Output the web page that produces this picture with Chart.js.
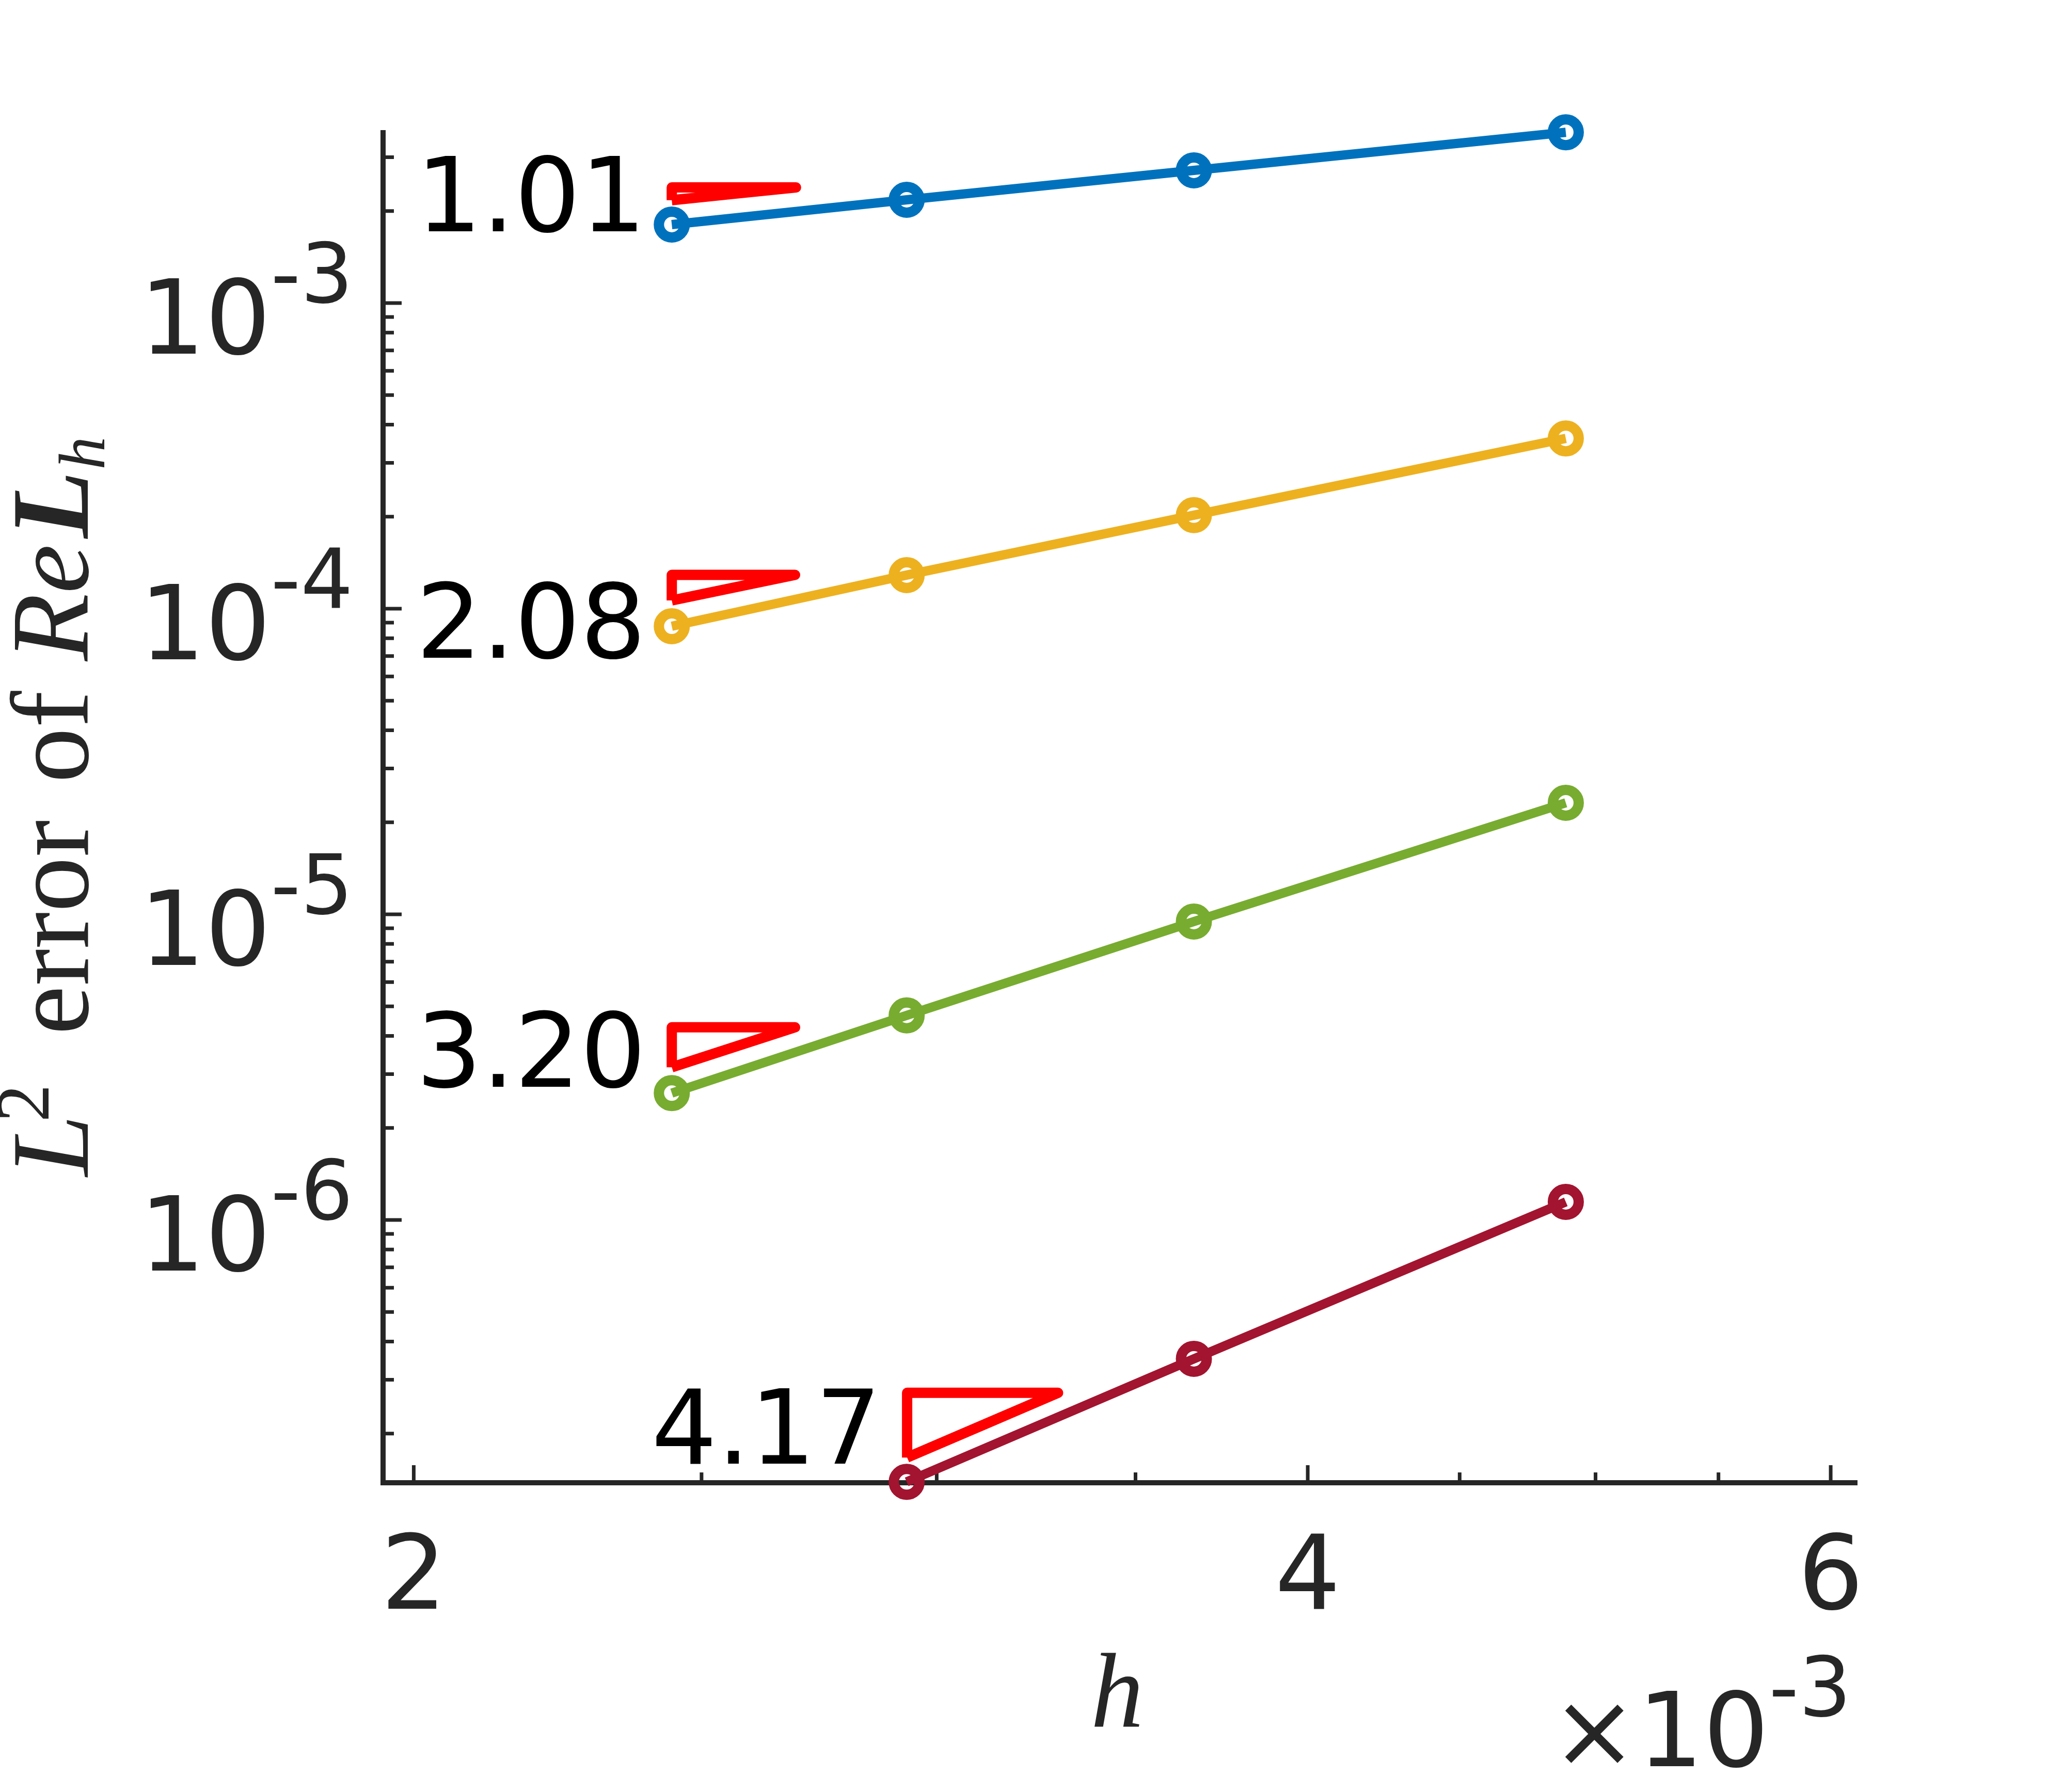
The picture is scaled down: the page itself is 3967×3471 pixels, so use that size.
<!DOCTYPE html>
<html>
<head>
<meta charset="utf-8">
<script src="https://cdn.jsdelivr.net/npm/chart.js@4.4.1/dist/chart.umd.min.js"></script>
<style>
html, body { margin: 0; padding: 0; background: #fff; }
#wrap { width: 3967px; height: 3471px; }
</style>
</head>
<body>
<div id="wrap"><canvas id="errChart" width="3967" height="3471"></canvas></div>
<script>
// mesh sizes h and L2 errors, one array per curve
const hValues = [2.443e-3, 2.931e-3, 3.662e-3, 4.886e-3];
const errBlue = [1.806e-3, 2.177e-3, 2.717e-3, 3.62e-3];
const errYellow = [8.76e-5, 1.288e-4, 2.023e-4, 3.607e-4];
const errGreen = [2.60e-6, 4.67e-6, 9.47e-6, 2.317e-5];
const errRed = [null, 1.39e-7, 3.513e-7, 1.146e-6];

// slope triangles and their labels
const slopeLabels = ['1.01', '2.08', '3.20', '4.17'];
const triLeft = [2.443e-3, 2.443e-3, 2.443e-3, 2.932e-3];
const triRight = [2.69e-3, 2.688e-3, 2.688e-3, 3.296e-3];
const triBottom = [2.17e-3, 1.064e-4, 3.16e-6, 1.67e-7];
const triTop = [2.39e-3, 1.29e-4, 4.27e-6, 2.72e-7];
const slopeLabelY = [1.718e-3, 6.91e-5, 2.73e-6, 1.596e-7];

// axis ticks
const xMajor = [2e-3, 4e-3, 6e-3];
const xTickLabels = ['2', '4', '6'];
const xMinor = [2.5e-3, 3e-3, 3.5e-3, 4.5e-3, 5e-3, 5.5e-3];
const yMajor = [1e-6, 1e-5, 1e-4, 1e-3];
const yTickExp = ['-6', '-5', '-4', '-3'];

const seriesColors = ['#0072BD', '#EDB120', '#77AC30', '#A2142F'];
const axisColor = '#262626';
const sans = '"DejaVu Sans"';
const serif = '"Liberation Serif"';

const seriesData = [errBlue, errYellow, errGreen, errRed];
const toPoints = ys => hValues.map((h, i) => ({x: h, y: ys[i]})).filter(p => p.y !== null);

const datasets = seriesData.map((ys, i) => ({
    data: toPoints(ys),
    borderColor: seriesColors[i],
    borderWidth: 18,
    pointRadius: 25,
    pointBorderWidth: 20,
    pointBorderColor: seriesColors[i],
    pointBackgroundColor: 'rgba(0,0,0,0)',
    fill: false,
    tension: 0,
    clip: false,
    order: 2
}));

slopeLabels.forEach((lbl, i) => {
    datasets.push({
        data: [
            {x: triLeft[i], y: triBottom[i]},
            {x: triLeft[i], y: triTop[i]},
            {x: triRight[i], y: triTop[i]},
            {x: triLeft[i], y: triBottom[i]}
        ],
        borderColor: '#FF0000',
        borderWidth: 20,
        borderJoinStyle: 'round',
        borderCapStyle: 'butt',
        pointRadius: 0,
        fill: false,
        tension: 0.000001,
        clip: false,
        order: 1
    });
});

// y minor ticks 2..9 in each decade inside the axis range
const yMinor = [];
[1e-7, 1e-6, 1e-5, 1e-4, 1e-3].forEach(d => {
    for (let k = 2; k <= 9; k++) yMinor.push(k * d);
});

function drawPowerLabel(ctx, right, base, mainTxt, supTxt, mainSize, supSize, rise) {
    ctx.font = mainSize + 'px ' + sans;
    const wMain = ctx.measureText(mainTxt).width;
    ctx.font = supSize + 'px ' + sans;
    const wSup = ctx.measureText(supTxt).width;
    const start = right - wMain - wSup;
    ctx.textAlign = 'left';
    ctx.textBaseline = 'alphabetic';
    ctx.font = mainSize + 'px ' + sans;
    ctx.fillText(mainTxt, start, base);
    ctx.font = supSize + 'px ' + sans;
    ctx.fillText(supTxt, start + wMain, base - rise);
}

const matlabAxes = {
    id: 'matlabAxes',
    beforeDatasetsDraw(chart) {
        const {ctx, chartArea: a, scales: {x, y}} = chart;
        ctx.save();
        ctx.strokeStyle = axisColor;
        ctx.lineWidth = 10;
        ctx.lineJoin = 'miter';
        ctx.beginPath();
        ctx.moveTo(a.left, a.top);
        ctx.lineTo(a.left, a.bottom);
        ctx.lineTo(a.right, a.bottom);
        ctx.stroke();

        ctx.lineWidth = 7;
        ctx.beginPath();
        xMajor.forEach(v => {
            const px = x.getPixelForValue(v);
            ctx.moveTo(px, a.bottom); ctx.lineTo(px, a.bottom - 34);
        });
        xMinor.forEach(v => {
            const px = x.getPixelForValue(v);
            ctx.moveTo(px, a.bottom); ctx.lineTo(px, a.bottom - 20);
        });
        yMajor.forEach(v => {
            const py = y.getPixelForValue(v);
            ctx.moveTo(a.left, py); ctx.lineTo(a.left + 36, py);
        });
        yMinor.forEach(v => {
            const py = y.getPixelForValue(v);
            if (py < a.top || py > a.bottom) return;
            ctx.moveTo(a.left, py); ctx.lineTo(a.left + 21, py);
        });
        ctx.stroke();
        ctx.restore();
    },
    afterDraw(chart) {
        const {ctx, chartArea: a, scales: {x, y}} = chart;
        ctx.save();
        ctx.fillStyle = axisColor;

        // y tick labels 10^k
        yMajor.forEach((v, i) => {
            const py = y.getPixelForValue(v);
            drawPowerLabel(ctx, a.left - 58, py + 98, '10', yTickExp[i], 200, 160, 99);
        });

        // x tick labels
        ctx.font = '200px ' + sans;
        ctx.textAlign = 'center';
        ctx.textBaseline = 'alphabetic';
        xMajor.forEach((v, i) => {
            ctx.fillText(xTickLabels[i], x.getPixelForValue(v), a.bottom + 244);
        });

        // x exponent
        drawPowerLabel(ctx, a.right - 12, a.bottom + 549, '\u00d710', '-3', 200, 160, 97);

        // x axis title
        ctx.font = 'italic 205px ' + serif;
        ctx.textAlign = 'center';
        ctx.fillText('h', (a.left + a.right) / 2 - 6, a.bottom + 472);

        // slope labels
        ctx.fillStyle = '#000';
        ctx.font = '200px ' + sans;
        ctx.textAlign = 'right';
        slopeLabels.forEach((lbl, i) => {
            ctx.fillText(lbl, x.getPixelForValue(triLeft[i]) - 50, y.getPixelForValue(slopeLabelY[i]));
        });

        // y axis title, rotated
        ctx.fillStyle = axisColor;
        const s = 214;
        const parts = [
            {t: 'L', f: 'italic ' + s + 'px ' + serif, dy: 0, gap: -14},
            {t: '2', f: Math.round(s * 0.68) + 'px ' + serif, dy: -76, gap: 96},
            {t: 'error', f: s + 'px ' + serif, dy: 0, gap: 72},
            {t: 'of', f: s + 'px ' + serif, dy: 0, gap: 58},
            {t: 'R', f: 'italic ' + s + 'px ' + serif, dy: 0, gap: 0},
            {t: 'e', f: 'italic ' + s + 'px ' + serif, dy: 0, gap: 12},
            {t: 'L', f: 'italic bold ' + s + 'px ' + serif, dy: 0, gap: 2},
            {t: 'h', f: 'italic ' + Math.round(s * 0.6) + 'px ' + serif, dy: 32, gap: 0}
        ];
        let total = 0;
        parts.forEach(p => {
            ctx.font = p.f;
            p.w = ctx.measureText(p.t).width;
            total += p.w + p.gap;
        });
        ctx.translate(170, (a.top + a.bottom) / 2);
        ctx.rotate(-Math.PI / 2);
        ctx.textAlign = 'left';
        ctx.textBaseline = 'alphabetic';
        let cx = -total / 2;
        parts.forEach(p => {
            ctx.font = p.f;
            ctx.fillText(p.t, cx, p.dy);
            cx += p.w + p.gap;
        });
        ctx.restore();
    }
};

new Chart(document.getElementById('errChart').getContext('2d'), {
    type: 'line',
    data: { datasets: datasets },
    options: {
        responsive: false,
        animation: false,
        devicePixelRatio: 1,
        events: [],
        layout: {
            padding: { left: 742, top: 252, right: 3967 - 3598, bottom: 3471 - 2872 }
        },
        plugins: {
            legend: { display: false },
            tooltip: { enabled: false }
        },
        scales: {
            x: {
                type: 'logarithmic',
                display: false,
                min: 1.953e-3,
                max: 6.126e-3
            },
            y: {
                type: 'logarithmic',
                display: false,
                min: 1.381e-7,
                max: 3.68e-3
            }
        }
    },
    plugins: [matlabAxes]
});
</script>
</body>
</html>
